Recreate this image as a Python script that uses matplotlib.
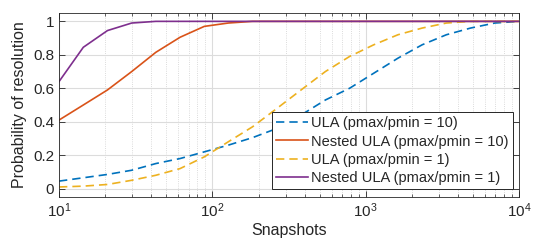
import numpy as np
import matplotlib
matplotlib.use("Agg")
import matplotlib.pyplot as plt
from matplotlib.ticker import FormatStrFormatter

plt.rcParams["font.family"] = ["Liberation Sans", "DejaVu Sans"]
plt.rcParams["mathtext.fontset"] = "custom"
plt.rcParams["mathtext.rm"] = "Liberation Sans"

# --- Data ---
snapshots = [10, 14.4, 20.7, 29.8, 42.8, 61.6, 88.6, 127, 183, 264,
             379, 546, 785, 1129, 1624, 2336, 3360, 4833, 6952, 10000]

ula_10 = [0.045, 0.065, 0.085, 0.11, 0.15, 0.18, 0.22, 0.26, 0.305, 0.36,
          0.44, 0.53, 0.60, 0.69, 0.78, 0.86, 0.92, 0.96, 0.99, 1.0]
nested_10 = [0.41, 0.50, 0.59, 0.70, 0.815, 0.905, 0.97, 0.99, 1.0, 1.0,
             1.0, 1.0, 1.0, 1.0, 1.0, 1.0, 1.0, 1.0, 1.0, 1.0]
ula_1 = [0.01, 0.015, 0.025, 0.05, 0.08, 0.12, 0.19, 0.28, 0.37, 0.48,
         0.59, 0.70, 0.79, 0.86, 0.92, 0.96, 0.99, 1.0, 1.0, 1.0]
nested_1 = [0.64, 0.845, 0.945, 0.99, 1.0, 1.0, 1.0, 1.0, 1.0, 1.0,
            1.0, 1.0, 1.0, 1.0, 1.0, 1.0, 1.0, 1.0, 1.0, 1.0]

labels = ["ULA (pmax/pmin = 10)", "Nested ULA (pmax/pmin = 10)",
          "ULA (pmax/pmin = 1)", "Nested ULA (pmax/pmin = 1)"]
colors = ["#0072BD", "#D95319", "#EDB120", "#7E2F8E"]
styles = ["--", "-", "--", "-"]

# --- Plot ---
fig = plt.figure(figsize=(5.38, 2.48), dpi=100)
ax = fig.add_axes([0.1097, 0.2056, 0.855, 0.742])

for y, lab, c, ls in zip([ula_10, nested_10, ula_1, nested_1], labels, colors, styles):
    line, = ax.plot(snapshots, y, ls, color=c, lw=1.2, label=lab)
    if ls == "--":
        line.set_dashes((5, 3))

ax.set_xscale("log")
ax.set_xlim(10, 10000)
ax.set_ylim(-0.05, 1.05)
ax.set_yticks([0, 0.2, 0.4, 0.6, 0.8, 1.0])
ax.yaxis.set_major_formatter(FormatStrFormatter("%g"))

ax.grid(True, which="major", color="#dcdcdc", lw=0.8, ls="-")
ax.grid(True, which="minor", axis="x", color="#cfcfcf", lw=0.6, ls=":")
ax.set_axisbelow(True)

ax.tick_params(which="both", direction="in", top=True, right=True,
               colors="#262626", labelsize=11)
ax.tick_params(which="major", length=4, width=0.6)
ax.tick_params(which="minor", length=2.5, width=0.5)
for s in ax.spines.values():
    s.set_color("#262626")
    s.set_linewidth(0.6)

ax.set_xlabel("Snapshots", fontsize=11.5, color="#262626", labelpad=2)
ax.set_ylabel("Probability of resolution", fontsize=11.5, color="#262626", labelpad=4)

leg = ax.legend(loc="lower right", bbox_to_anchor=(0.987, 0.043), fontsize=10.5,
                fancybox=False, framealpha=1, edgecolor="#262626",
                borderpad=0.3, labelspacing=0.28, handlelength=2.2,
                handletextpad=0.2, borderaxespad=0)
leg.get_frame().set_linewidth(0.7)
for t in leg.get_texts():
    t.set_color("#262626")

fig.savefig("out.png", dpi=100)
